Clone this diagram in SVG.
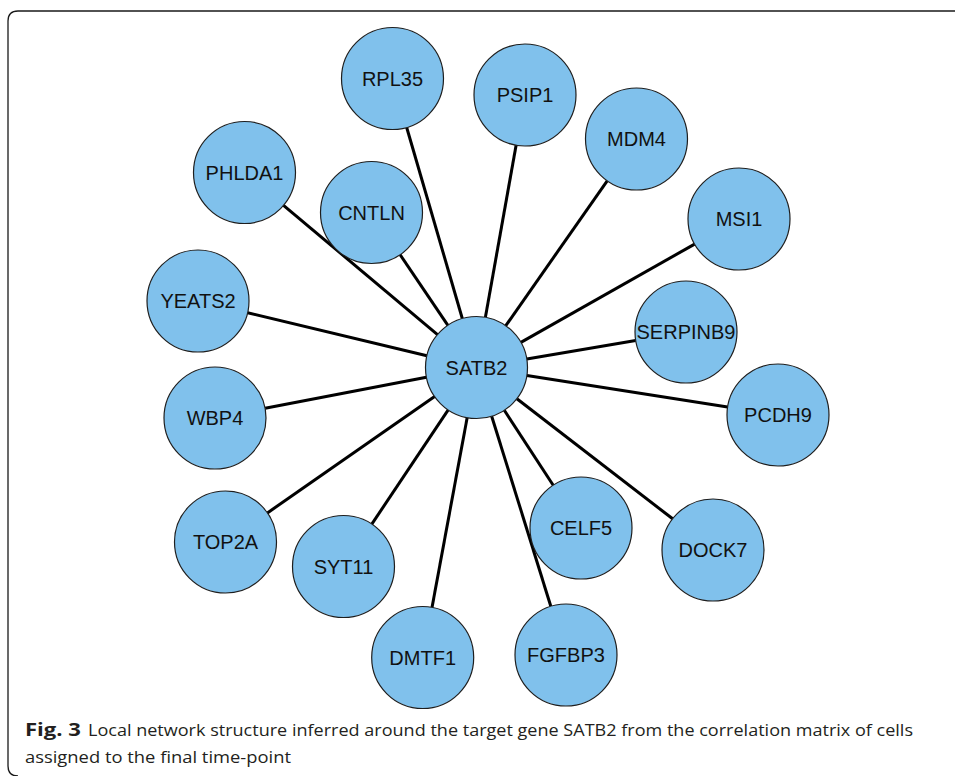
<svg xmlns="http://www.w3.org/2000/svg" width="955" height="776" viewBox="0 0 955 776">
<style>
.frame{fill:none;stroke:#1a1a1a;stroke-width:1.3}
.edge{stroke:#000;stroke-width:3;stroke-linecap:butt}
.node circle{fill:#80C1EC;stroke:#1e1e1e;stroke-width:1.2}
.node text{font-family:"Liberation Sans",Arial,sans-serif;font-size:20px;fill:#111;text-anchor:middle}
.cap{font-family:"Open Sans","Noto Sans",sans-serif;font-size:17px;fill:#231f20}
</style>
<rect width="955" height="776" fill="#fff"/>
<path class="frame" d="M955 11 H18 Q8 11 8 21 V766 Q8 776 18 776"/>
<g id="connectors">
<line class="edge" x1="462.3" y1="318.5" x2="406.7" y2="127.5"/>
<line class="edge" x1="485.4" y1="317.3" x2="516.1" y2="145.2"/>
<line class="edge" x1="505.8" y1="325.7" x2="607.2" y2="180.8"/>
<line class="edge" x1="520.9" y1="342.4" x2="694.6" y2="244.1"/>
<line class="edge" x1="437.5" y1="334.7" x2="283.5" y2="205.3"/>
<line class="edge" x1="447.9" y1="325.3" x2="400.1" y2="254.7"/>
<line class="edge" x1="426.9" y1="355.7" x2="247.6" y2="312.8"/>
<line class="edge" x1="526.8" y1="359.0" x2="635.7" y2="340.5"/>
<line class="edge" x1="426.4" y1="377.2" x2="265.1" y2="408.3"/>
<line class="edge" x1="526.9" y1="375.4" x2="727.6" y2="407.1"/>
<line class="edge" x1="434.6" y1="396.6" x2="267.4" y2="512.9"/>
<line class="edge" x1="448.2" y1="409.9" x2="371.8" y2="524.1"/>
<line class="edge" x1="504.3" y1="410.2" x2="553.2" y2="485.3"/>
<line class="edge" x1="516.9" y1="398.7" x2="672.6" y2="518.8"/>
<line class="edge" x1="467.2" y1="417.6" x2="432.0" y2="607.4"/>
<line class="edge" x1="491.7" y1="416.2" x2="550.8" y2="606.3"/>
</g>
<g id="SATB2" class="node"><circle cx="476.5" cy="367.5" r="51"/><text x="476.5" y="374.7">SATB2</text></g>
<g id="RPL35" class="node"><circle cx="392.5" cy="78.5" r="51"/><text x="392.5" y="85.7">RPL35</text></g>
<g id="PSIP1" class="node"><circle cx="525" cy="95" r="51"/><text x="525" y="102.2">PSIP1</text></g>
<g id="MDM4" class="node"><circle cx="636.5" cy="139" r="51"/><text x="636.5" y="146.2">MDM4</text></g>
<g id="MSI1" class="node"><circle cx="739" cy="219" r="51"/><text x="739" y="226.2">MSI1</text></g>
<g id="PHLDA1" class="node"><circle cx="244.5" cy="172.5" r="51"/><text x="244.5" y="179.7">PHLDA1</text></g>
<g id="CNTLN" class="node"><circle cx="371.5" cy="212.5" r="51"/><text x="371.5" y="219.7">CNTLN</text></g>
<g id="YEATS2" class="node"><circle cx="198" cy="301" r="51"/><text x="198" y="308.2">YEATS2</text></g>
<g id="SERPINB9" class="node"><circle cx="686" cy="332" r="51"/><text x="686" y="339.2">SERPINB9</text></g>
<g id="WBP4" class="node"><circle cx="215" cy="418" r="51"/><text x="215" y="425.2">WBP4</text></g>
<g id="PCDH9" class="node"><circle cx="778" cy="415" r="51"/><text x="778" y="422.2">PCDH9</text></g>
<g id="TOP2A" class="node"><circle cx="225.5" cy="542" r="51"/><text x="225.5" y="549.2">TOP2A</text></g>
<g id="SYT11" class="node"><circle cx="343.5" cy="566.5" r="51"/><text x="343.5" y="573.7">SYT11</text></g>
<g id="CELF5" class="node"><circle cx="581" cy="528" r="51"/><text x="581" y="535.2">CELF5</text></g>
<g id="DOCK7" class="node"><circle cx="713" cy="550" r="51"/><text x="713" y="557.2">DOCK7</text></g>
<g id="DMTF1" class="node"><circle cx="422.7" cy="657.5" r="51"/><text x="422.7" y="664.7">DMTF1</text></g>
<g id="FGFBP3" class="node"><circle cx="566" cy="655" r="51"/><text x="566" y="662.2">FGFBP3</text></g>
<text class="cap" x="25" y="736"><tspan font-weight="bold" textLength="56" lengthAdjust="spacingAndGlyphs">Fig. 3</tspan><tspan x="88" textLength="825" lengthAdjust="spacingAndGlyphs">Local network structure inferred around the target gene SATB2 from the correlation matrix of cells</tspan></text>
<text class="cap" x="25" y="763" textLength="266" lengthAdjust="spacingAndGlyphs">assigned to the final time-point</text>
</svg>
